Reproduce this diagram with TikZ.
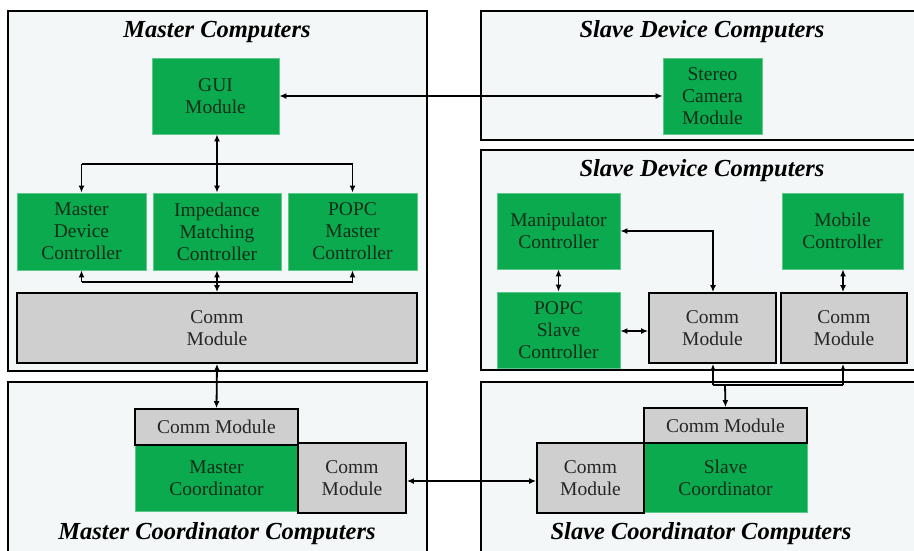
\documentclass[tikz,border=0pt]{standalone}
\usepackage{fontspec}
\setmainfont{Liberation Serif}
\usetikzlibrary{arrows.meta}
\definecolor{boxgreen}{HTML}{0BAA4F}
\definecolor{boxgreenedge}{HTML}{5CC98A}
\definecolor{boxgray}{HTML}{CFCFCF}
\definecolor{panelfill}{HTML}{F3F7F7}
\definecolor{greentext}{HTML}{0E2E18}
\begin{document}
\begin{tikzpicture}[x=1pt,y=-1pt,
  panel/.style={draw=black,line width=1.8pt,fill=panelfill},
  paneltitle/.style={font=\fontsize{24.5}{28}\selectfont\bfseries\itshape,inner sep=0pt},
  gbox/.style={draw=boxgreenedge,line width=0.8pt,fill=boxgreen,text=greentext,
    align=center,inner sep=0pt,font=\fontsize{19.5}{22}\selectfont},
  cbox/.style={draw=black,line width=1.8pt,fill=boxgray,text=black!85,
    align=center,inner sep=0pt,font=\fontsize{19.5}{22}\selectfont},
  link/.style={line width=1.8pt,{Latex[length=7pt,width=6pt]}-{Latex[length=7pt,width=6pt]}},
  tolink/.style={line width=1.8pt,-{Latex[length=7pt,width=6pt]}},
  plain/.style={line width=1.8pt}]
\useasboundingbox (0,0) rectangle (914,550);
\fill[white] (0,0) rectangle (914,550);

% computer panels
\draw[panel] (8,11) rectangle (427,371);
\draw[panel] (481,11) rectangle (925,140);
\draw[panel] (481,150) rectangle (925,370);
\draw[panel] (8,382) rectangle (427,560);
\draw[panel] (481,382) rectangle (925,560);

\node[paneltitle] (t1) at (217,32) {Master Computers};
\node[paneltitle] (t2) at (702,32) {Slave Device Computers};
\node[paneltitle] (t3) at (702,171) {Slave Device Computers};
\node[paneltitle] (t4) at (217,534) {Master Coordinator Computers};
\node[paneltitle] (t5) at (701,534) {Slave Coordinator Computers};

% master side
\node[gbox,minimum width=127,minimum height=76] (gui) at (215.5,96) {GUI\\Module};
\node[gbox,minimum width=129,minimum height=77] (mdc) at (81.5,231.5) {Master\\Device\\Controller};
\node[gbox,minimum width=128,minimum height=77] (imc) at (217,231.5) {Impedance\\Matching\\Controller};
\node[gbox,minimum width=129,minimum height=77] (pmc) at (352.5,231.5) {POPC\\Master\\Controller};
\node[cbox,minimum width=400,minimum height=70] (mcomm) at (217,328) {Comm\\Module};

% slave device side
\node[gbox,minimum width=99,minimum height=76] (cam) at (712.5,96) {Stereo\\Camera\\Module};
\node[gbox,minimum width=123,minimum height=76] (man) at (558.5,231) {Manipulator\\Controller};
\node[gbox,minimum width=121,minimum height=76] (mob) at (842.5,231) {Mobile\\Controller};
\node[gbox,minimum width=123,minimum height=76] (psc) at (558.5,330) {POPC\\Slave\\Controller};
\node[cbox,minimum width=127,minimum height=70] (scomm1) at (712.5,328) {Comm\\Module};
\node[cbox,minimum width=126,minimum height=70] (scomm2) at (844,328) {Comm\\Module};

% coordinators
\node[gbox,minimum width=163,minimum height=67] (mcoord) at (216.5,478) {Master\\Coordinator};
\node[cbox,minimum width=163,minimum height=36] (mccommt) at (216.5,427) {Comm Module};
\node[cbox,minimum width=108,minimum height=70] (mccommr) at (352,478) {Comm\\Module};
\node[gbox,minimum width=163,minimum height=69] (scoord) at (725.5,477.5) {Slave\\Coordinator};
\node[cbox,minimum width=163,minimum height=35] (sccommt) at (725.5,425.5) {Comm Module};
\node[cbox,minimum width=107,minimum height=70] (sccomml) at (590.5,478) {Comm\\Module};

% connectors in the master computers
\draw[link] (gui.east) -- (cam.west);
\draw[link] (gui.south -| imc.north) -- (imc.north);
\coordinate (splitl) at (mdc.north |- 0,164);
\coordinate (splitr) at (pmc.north |- 0,164);
\draw[plain] (splitl) -- (splitr);
\draw[tolink] (splitl) -- (mdc.north);
\draw[tolink] (splitr) -- (pmc.north);
\coordinate (busl) at (mdc.south |- 0,282);
\coordinate (busr) at (pmc.south |- 0,282);
\draw[plain] (busl) -- (busr);
\draw[tolink] (busl) -- (mdc.south);
\draw[tolink] (busr) -- (pmc.south);
\draw[link] (imc.south) -- (mcomm.north);
\draw[link] (mcomm.south) -- (mccommt.north);

% connectors in the slave device computers
\coordinate (mancorner) at (713,231);
\draw[link] (man.east) -- (mancorner) -- (mancorner |- scomm1.north);
\draw[link] (man.south) -- (psc.north);
\draw[link] (psc.east |- 0,331) -- (scomm1.west |- 0,331);
\draw[link] (mob.south -| 843,0) -- (scomm2.north -| 843,0);
\coordinate (sbusl) at (713,385);
\coordinate (sbusr) at (843,385);
\draw[plain] (sbusl) -- (sbusr);
\draw[tolink] (sbusl) -- (sbusl |- scomm1.south);
\draw[tolink] (sbusr) -- (sbusr |- scomm2.south);
\draw[tolink] (725,385) -- (sccommt.north);

% coordinator link
\draw[link] (mccommr.east |- 0,481) -- (sccomml.west |- 0,481);
\end{tikzpicture}
\end{document}
